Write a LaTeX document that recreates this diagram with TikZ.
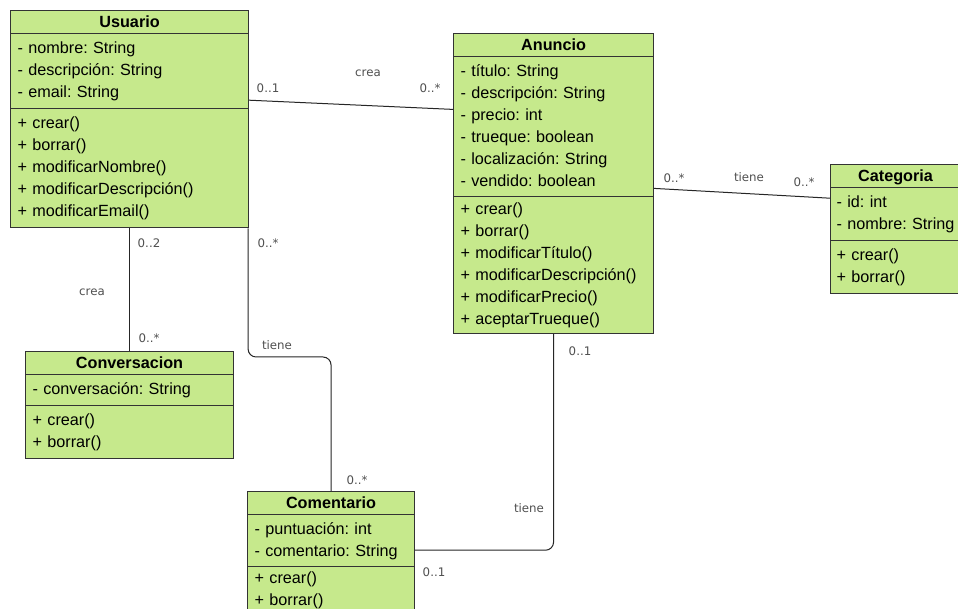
\documentclass[tikz,border=0pt]{standalone}
\usepackage{fontspec}
\setmainfont{Liberation Sans}
\newfontfamily\lblfont{DejaVu Sans}
\usetikzlibrary{shapes.multipart}
\frenchspacing
\definecolor{umlgreen}{RGB}{198,233,140}
\definecolor{lblgray}{RGB}{80,80,80}
\tikzset{
  umlclass/.style={rectangle split, rectangle split parts=3, draw=black!80, line width=1.1pt,
    fill=umlgreen, anchor=north west, inner xsep=7pt, inner ysep=4pt, align=left,
    font=\fontsize{16.2}{22}\selectfont},
  assoc/.style={draw=black!85, line width=1pt},
  mult/.style={font=\lblfont\fontsize{11.8}{13}\selectfont, text=lblgray, inner sep=0pt},
}
\newcommand{\umlhead}[1]{\makebox[\hsize]{\bfseries\smash{#1}\rule[-2pt]{0pt}{14pt}}}
\begin{document}
\begin{tikzpicture}[x=1pt,y=-1pt]
	\fill[white] (0,0) rectangle (958,609);
	\useasboundingbox (0,0) rectangle (958,609);
	% clases
	\node[umlclass, text width=224pt] (usuario) at (10,10) {\umlhead{Usuario}
		\nodepart{two}\strut- nombre: String\\- descripción: String\\- email: String\strut
		\nodepart{three}\strut+ crear()\\+ borrar()\\+ modificarNombre()\\+ modificarDescripción()\\+ modificarEmail()\strut};
	\node[umlclass, text width=186pt] (anuncio) at (453,33) {\umlhead{Anuncio}
		\nodepart{two}\strut- título: String\\- descripción: String\\- precio: int\\- trueque: boolean\\- localización: String\\- vendido: boolean\rule[-5pt]{0pt}{5pt}
		\nodepart{three}\rule{0pt}{14pt}+ crear()\\+ borrar()\\+ modificarTítulo()\\+ modificarDescripción()\\+ modificarPrecio()\\+ aceptarTrueque()\rule[-4pt]{0pt}{4pt}};
	\node[umlclass, text width=118pt, inner xsep=6pt] (categoria) at (830,164) {\umlhead{Categoria}
		\nodepart{two}\strut- id: int\\- nombre: String\strut
		\nodepart{three}\strut+ crear()\\+ borrar()\strut};
	\node[umlclass, text width=194pt] (conversacion) at (25,351) {\umlhead{Conversacion}
		\nodepart{two}\strut- conversación: String\strut
		\nodepart{three}\strut+ crear()\\+ borrar()\strut};
	\node[umlclass, text width=153pt] (comentario) at (247,491) {\umlhead{Comentario}
		\nodepart{two}\strut- puntuación: int\\- comentario: String\rule[-5pt]{0pt}{5pt}
		\nodepart{three}\rule{0pt}{13pt}+ crear()\\+ borrar()\strut};
	% asociaciones
	\draw[assoc] ([yshift=19pt]usuario.east) -- ([yshift=74pt]anuncio.west);
	\draw[assoc] ([yshift=-5pt]anuncio.east) -- ([yshift=31pt]categoria.west);
	\draw[assoc] (usuario.south) -- (conversacion.north);
	\draw[assoc, rounded corners=8pt] ([xshift=-1pt]usuario.south east) |- ([yshift=134pt]comentario.north) -- (comentario.north);
	\draw[assoc, rounded corners=8pt] (anuncio.south) |- ([yshift=4pt]comentario.east);
	% multiplicidades
	\node[mult] (ua-u) at (268,88) {0..1};
	\node[mult] (ua-l) at (368,73) {crea};
	\node[mult] (ua-a) at (430,88) {0..*};
	\node[mult] (ac-a) at (674,178) {0..*};
	\node[mult] (ac-l) at (749,177) {tiene};
	\node[mult] (ac-c) at (804,182) {0..*};
	\node[mult] (uv-u) at (149,243) {0..2};
	\node[mult] (uv-l) at (92,292) {crea};
	\node[mult] (uv-v) at (149,338) {0..*};
	\node[mult] (uc-u) at (268,243) {0..*};
	\node[mult] (uc-l) at (277,345) {tiene};
	\node[mult] (uc-c) at (357,480) {0..*};
	\node[mult] (ak-a) at (580,351) {0..1};
	\node[mult] (ak-l) at (529,508) {tiene};
	\node[mult] (ak-c) at (434,572) {0..1};
\end{tikzpicture}
\end{document}
